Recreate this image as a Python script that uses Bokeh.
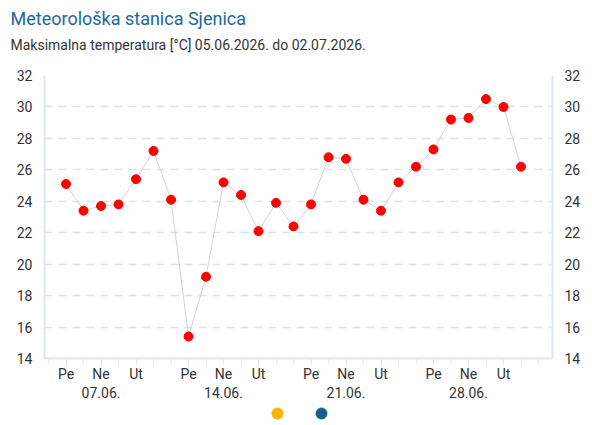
from bokeh.plotting import figure
from bokeh.layouts import column
from bokeh.models import (LinearAxis, FixedTicker, Title, ColumnDataSource, Range1d)
from bokeh.embed import file_html
from bokeh.resources import INLINE

# ---- data ----
dates = ["05.06.", "06.06.", "07.06.", "08.06.", "09.06.", "10.06.", "11.06.",
         "12.06.", "13.06.", "14.06.", "15.06.", "16.06.", "17.06.", "18.06.",
         "19.06.", "20.06.", "21.06.", "22.06.", "23.06.", "24.06.", "25.06.",
         "26.06.", "27.06.", "28.06.", "29.06.", "30.06.", "01.07."]
tmax = [25.1, 23.4, 23.7, 23.8, 25.4, 27.2, 24.1, 15.4, 19.2, 25.2, 24.4, 22.1,
        23.9, 22.4, 23.8, 26.8, 26.7, 24.1, 23.4, 25.2, 26.2, 27.3, 29.2, 29.3,
        30.5, 30.0, 26.2]
tick_dates = ["05.06.", "07.06.", "09.06.", "12.06.", "14.06.", "16.06.",
              "19.06.", "21.06.", "23.06.", "26.06.", "28.06.", "30.06."]
tick_labels = ["Pe", "Ne\n07.06.", "Ut", "Pe", "Ne\n14.06.", "Ut",
               "Pe", "Ne\n21.06.", "Ut", "Pe", "Ne\n28.06.", "Ut"]
y_ticks = [14, 16, 18, 20, 22, 24, 26, 28, 30, 32]
legend_colors = ["#f9b200", "#155f8c"]

title_text = "Meteorološka stanica Sjenica"
subtitle_text = "Maksimalna temperatura [°C] 05.06.2026. do 02.07.2026."

FONT = "Roboto"
TXT = "#333333"
AX = "#dce8f0"
W = 592
FRAME_L, FRAME_R = 44, 552

x = list(range(len(dates)))
src = ColumnDataSource(dict(x=x, y=tmax, d=dates))

p = figure(width=W, height=403, output_backend="svg", toolbar_location=None,
           x_range=Range1d(-1.23, 27.8), y_range=Range1d(14, 32),
           min_border_left=FRAME_L, min_border_right=W - FRAME_R,
           min_border_top=75, min_border_bottom=45, title=None)
p.outline_line_color = None
p.background_fill_color = "white"
p.border_fill_color = "white"

# titles (spacer panel nearest the frame, then subtitle, then main title)
spacer = Title(text=" ", text_font_size="1px", standoff=18)
p.add_layout(spacer, "above")
sub = Title(text=subtitle_text, text_font=FONT, text_font_size="14px",
            text_color=TXT, text_font_style="normal", standoff=4, offset=-34)
p.add_layout(sub, "above")
main = Title(text=title_text, text_font=FONT, text_font_size="18px",
             text_color="#1c6898", text_font_style="normal", standoff=7, offset=-34)
p.add_layout(main, "above")

# series
p.line("x", "y", source=src, line_color="#d3d3d3", line_width=1)
p.scatter("x", "y", source=src, size=9, fill_color="#ff0000", line_color="#ff0000")

# axes
tick_x = [dates.index(d) for d in tick_dates]
xa = p.xaxis[0]
xa.ticker = FixedTicker(ticks=tick_x, minor_ticks=list(range(-1, 28)))
xa.major_label_overrides = {t: l for t, l in zip(tick_x, tick_labels)}
xa.major_label_text_font = FONT
xa.major_label_text_font_size = "14px"
xa.major_label_text_color = TXT
xa.major_label_standoff = 2
xa.axis_line_color = AX
xa.axis_line_width = 2
xa.major_tick_out = 5
xa.major_tick_in = 0
xa.minor_tick_out = 5
xa.minor_tick_in = 0
xa.major_tick_line_color = AX
xa.minor_tick_line_color = AX

ya = p.yaxis[0]
ra = LinearAxis()
p.add_layout(ra, "right")
for a in (ya, ra):
    a.ticker = FixedTicker(ticks=y_ticks)
    a.major_label_text_font = FONT
    a.major_label_text_font_size = "14px"
    a.major_label_text_color = TXT
    a.axis_line_color = AX
    a.axis_line_width = 2
    a.major_tick_out = 0
    a.major_tick_in = 0
    a.minor_tick_line_color = None
    a.major_label_standoff = 12

p.xgrid.visible = False
p.ygrid.ticker = FixedTicker(ticks=y_ticks)
p.ygrid.grid_line_color = "#d6e4ec"
p.ygrid.grid_line_dash = "8 6"
p.ygrid.grid_line_width = 1.5

# legend strip (symbols only), centred under the plot frame
# (the column layout aligns this strip's frame with the main frame)
LH = 22
lg = figure(width=W, height=LH, output_backend="svg", toolbar_location=None,
            x_range=Range1d(FRAME_L, FRAME_R), y_range=Range1d(0, LH),
            min_border=0, x_axis_location=None, y_axis_location=None)
lg.grid.visible = False
lg.outline_line_color = None
cx = (FRAME_L + FRAME_R) / 2 + 1
lg.scatter(x=[cx - 22, cx + 22], y=[LH - 10, LH - 10], size=11,
           fill_color=legend_colors, line_color=legend_colors)

layout = column(p, lg, spacing=0)
open("out.html", "w").write(file_html(layout, INLINE))
